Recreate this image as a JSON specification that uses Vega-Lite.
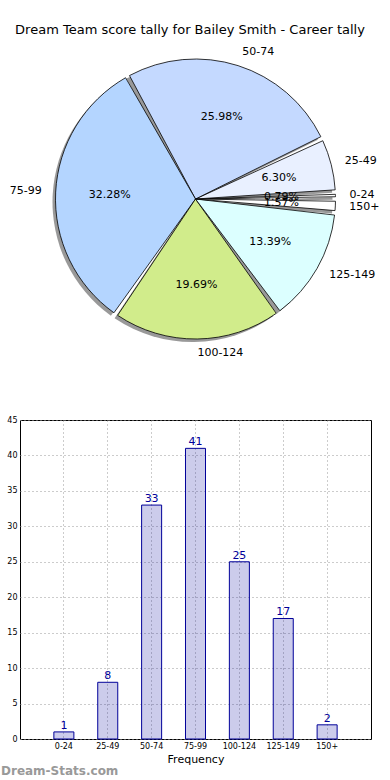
{
  "$schema": "https://vega.github.io/schema/vega-lite/v6.json",
  "padding": {"left": 0, "top": 24, "right": 0, "bottom": 0},
  "config": {"font": "DejaVu Sans", "view": {"stroke": null}},
  "title": {"text": "Dream Team score tally for Bailey Smith - Career tally", "fontSize": 13, "fontWeight": "normal", "font": "DejaVu Sans", "color": "#000000", "anchor": "middle", "offset": 8},
  "datasets": {
    "tally": [
      {"k": 1, "cat": "0-24", "n": 1, "share": 0.0079},
      {"k": 2, "cat": "25-49", "n": 8, "share": 0.0630},
      {"k": 3, "cat": "50-74", "n": 33, "share": 0.2598},
      {"k": 4, "cat": "75-99", "n": 41, "share": 0.3228},
      {"k": 5, "cat": "100-124", "n": 25, "share": 0.1969},
      {"k": 6, "cat": "125-149", "n": 17, "share": 0.1339},
      {"k": 7, "cat": "150+", "n": 2, "share": 0.0157}
    ]
  },
  "spacing": 57,
  "vconcat": [
    {
      "width": 351,
      "height": 308,
      "data": {"name": "tally"},
      "encoding": {
        "theta": {"field": "n", "type": "quantitative", "stack": true, "scale": {"range": [1.5708, -4.7124]}},
        "order": {"field": "k", "type": "quantitative"}
      },
      "layer": [
        {"mark": {"type": "arc", "outerRadius": 140, "padAngle": 0.032, "fill": "#333333", "fillOpacity": 0.5, "xOffset": -3, "yOffset": 3}},
        {
          "mark": {"type": "arc", "outerRadius": 140, "padAngle": 0.032, "stroke": "#000000", "strokeWidth": 0.8},
          "encoding": {
            "color": {
              "field": "cat", "type": "nominal", "legend": null,
              "scale": {
                "domain": ["0-24", "25-49", "50-74", "75-99", "100-124", "125-149", "150+"],
                "range": ["#ffffff", "#e9f0ff", "#c4d9ff", "#b4d5ff", "#d1ec8b", "#dcffff", "#ffffff"]
              }
            }
          }
        },
        {
          "mark": {"type": "text", "radius": 86, "fontSize": 11, "color": "#000000"},
          "encoding": {"text": {"field": "share", "type": "quantitative", "format": ".2%"}}
        },
        {
          "mark": {"type": "text", "radius": 154, "fontSize": 11, "align": "left", "baseline": "middle", "color": "#000000"},
          "encoding": {
            "text": {"condition": {"test": "datum.cat === '75-99'", "value": ""}, "field": "cat", "type": "nominal"}
          }
        },
        {
          "mark": {"type": "text", "radius": 154, "fontSize": 11, "align": "right", "baseline": "middle", "color": "#000000"},
          "encoding": {
            "text": {"condition": {"test": "datum.cat !== '75-99'", "value": ""}, "field": "cat", "type": "nominal"}
          }
        }
      ]
    },
    {
      "width": 351,
      "height": 319,
      "data": {"name": "tally"},
      "view": {"stroke": "#000000", "strokeWidth": 1},
      "title": {"text": "Dream-Stats.com", "orient": "bottom", "anchor": "start", "frame": "group", "dx": -19, "offset": 2, "fontSize": 12, "fontWeight": "bold", "color": "#999999"},
      "encoding": {
        "x": {
          "field": "cat", "type": "nominal", "sort": null,
          "scale": {"paddingInner": 0.544, "paddingOuter": 0.772},
          "axis": {"title": "Frequency", "titleFontSize": 11, "titleFontWeight": "normal", "titleColor": "#000000", "titlePadding": 3, "labelFontSize": 8, "labelAngle": 0, "labelColor": "#000000", "labelPadding": 3, "ticks": false, "domain": false, "grid": true, "gridDash": [1, 3], "gridColor": "#999999", "gridWidth": 1, "bandPosition": 0.5}
        },
        "y": {
          "field": "n", "type": "quantitative",
          "scale": {"domain": [0, 45], "nice": false},
          "axis": {"title": null, "values": [0, 5, 10, 15, 20, 25, 30, 35, 40, 45], "labelFontSize": 8, "labelColor": "#000000", "labelPadding": 3, "ticks": false, "domain": false, "grid": true, "gridDash": [1, 3], "gridColor": "#999999", "gridWidth": 1}
        }
      },
      "layer": [
        {"mark": {"type": "bar", "fill": "#000099", "fillOpacity": 0.2, "stroke": "#000099", "strokeWidth": 1}},
        {"mark": {"type": "text", "baseline": "bottom", "dy": -1, "fontSize": 11, "color": "#000099"}, "encoding": {"text": {"field": "n", "type": "quantitative"}}}
      ]
    }
  ]
}
